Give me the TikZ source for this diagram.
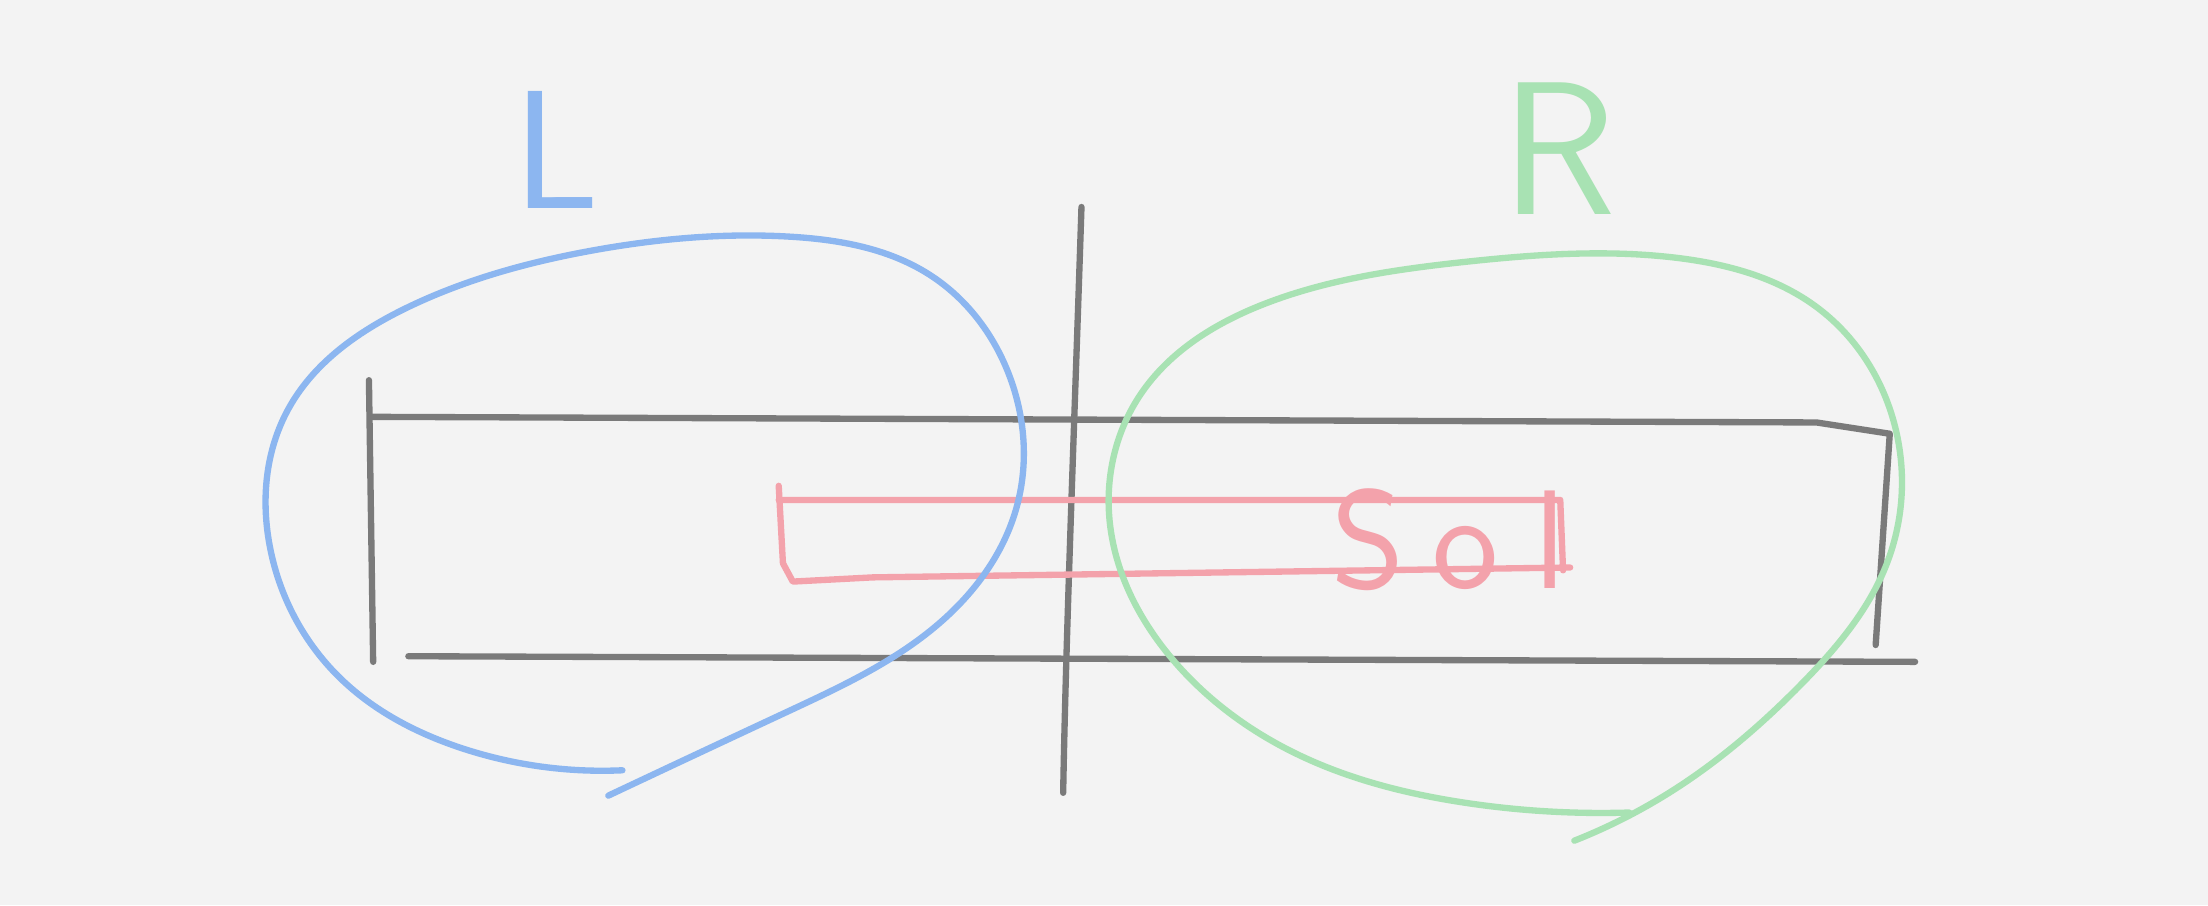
\documentclass[tikz,border=0pt]{standalone}
\usepackage{fontspec}
\usetikzlibrary{hobby}
\definecolor{paper}{HTML}{F3F3F3}
\definecolor{pencil}{HTML}{7A7A7A}
\definecolor{blueline}{HTML}{8CB6F0}
\definecolor{greenline}{HTML}{A8E2B3}
\definecolor{redline}{HTML}{F3A2AB}

\begin{document}
\begin{tikzpicture}[x=0.1408mm, y=-0.1408mm,
                every node/.append style = {inner sep = 0pt},
                stroke/.style = {line width = 1.8pt, line cap = round, line join = round},
                letter/.style = {font = \sffamily\fontsize{48}{52}\selectfont, anchor = base west}]
            \fill[paper] (0,0) rectangle (1568,643);
            % labels
            \node[letter, blueline] (nl) at (364,148) {L};
            \node[letter, greenline, font = \sffamily\fontsize{54}{58}\selectfont] (nr) at (1066,152) {R};
            \node[letter, redline, font = \sffamily\fontsize{40}{44}\selectfont] (nsol) at (945,418) {S\kern8pt o\kern10pt l};
            % divider and bar
            \draw[stroke, pencil] (768,147) .. controls (763,300) and (757,450) .. (755,563);
            \draw[stroke, pencil] (262,270) -- (265,470);
            \draw[stroke, pencil] (263,296) -- (1290,300) -- (1342,308) -- (1332,458);
            \draw[stroke, pencil] (290,466) -- (1360,470);
            % red box
            \draw[stroke, redline] (553,345) -- (556,400) -- (563,413) -- (620,410) -- (1115,403);
            \draw[stroke, redline] (553,355) -- (1108,355) -- (1110,405);
            % loops
            \draw[stroke, blueline, use Hobby shortcut] (442,547) .. (330,532) .. (240,480) .. (192,390) .. (205,290) .. (290,218) .. (420,178) .. (560,168) .. (660,195) .. (718,270) .. (722,360) .. (670,440) .. (560,505) .. (432,565);
            \draw[stroke, greenline, use Hobby shortcut] (1157,577) .. (1040,570) .. (920,535) .. (830,465) .. (788,370) .. (810,280) .. (900,215) .. (1040,186) .. (1190,183) .. (1290,218) .. (1345,300) .. (1340,400) .. (1280,485) .. (1190,560) .. (1118,597);
\end{tikzpicture}
\end{document}
